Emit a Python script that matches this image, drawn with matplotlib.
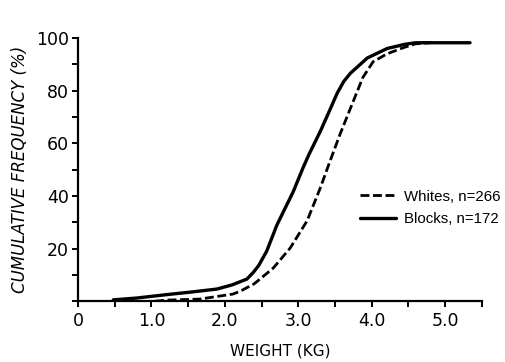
import matplotlib
matplotlib.use("Agg")
import matplotlib.pyplot as plt
from matplotlib.ticker import MultipleLocator

# Data (weight in kg, cumulative frequency in %)
blacks_x = [0.48, 0.8, 1.21, 1.55, 1.89, 2.10, 2.30, 2.39, 2.46, 2.57, 2.71, 2.93, 3.07, 3.15, 3.30, 3.42, 3.53, 3.62, 3.71, 3.94, 4.21, 4.45, 4.60, 5.34]
blacks_y = [0.5, 1.2, 2.5, 3.5, 4.6, 6.2, 8.4, 11.0, 13.5, 19.0, 29.0, 41.5, 51.0, 56.0, 64.5, 72.0, 79.0, 83.5, 86.6, 92.4, 96.0, 97.6, 98.2, 98.2]

whites_x = [1.05, 1.21, 1.66, 2.11, 2.21, 2.40, 2.66, 2.89, 3.12, 3.30, 3.43, 3.57, 3.75, 3.88, 4.02, 4.21, 4.45, 4.60, 4.80]
whites_y = [0.0, 0.4, 0.8, 2.7, 3.8, 6.6, 12.6, 20.2, 30.5, 43.0, 53.0, 63.5, 76.0, 85.0, 91.0, 94.0, 96.5, 97.8, 98.2]

series_labels = ["Whites, n=266", "Blocks, n=172"]
x_tick_labels = ["0", "1.0", "2.0", "3.0", "4.0", "5.0"]
x_tick_values = [0, 1, 2, 3, 4, 5]
y_tick_values = [20, 40, 60, 80, 100]
y_tick_labels = ["20", "40", "60", "80", "100"]

plt.rcParams['font.family'] = ['DejaVu Sans']

fig = plt.figure(figsize=(5.05, 3.62), dpi=100)
ax = fig.add_axes([0.1545, 0.168, 0.7995, 0.727])

ax.plot(whites_x, whites_y, color='black', lw=2.0, dashes=(3.2, 1.3),
        label=series_labels[0])
ax.plot(blacks_x, blacks_y, color='black', lw=2.4, solid_capstyle='round',
        solid_joinstyle='round', label=series_labels[1])

ax.set_xlim(0, 5.5)
ax.set_ylim(0, 100)

for s in ['top', 'right']:
    ax.spines[s].set_visible(False)
for s in ['left', 'bottom']:
    ax.spines[s].set_linewidth(1.6)

ax.set_xticks(x_tick_values)
ax.set_xticklabels(x_tick_labels)
ax.xaxis.set_minor_locator(MultipleLocator(0.5))
ax.set_yticks(y_tick_values)
ax.set_yticklabels(y_tick_labels)
ax.yaxis.set_minor_locator(MultipleLocator(10))

ax.tick_params(which='both', direction='out', width=1.4, color='black', length=4.5)
ax.tick_params(which='major', labelsize=12.5)
ax.tick_params(axis='y', which='major', pad=2)
ax.tick_params(axis='x', which='major', pad=3)

ax.set_xlabel("WEIGHT (KG)", fontsize=11, labelpad=10)
ax.set_ylabel("CUMULATIVE FREQUENCY (%)", fontsize=12, style='italic', labelpad=5)

leg = ax.legend(loc='center left', bbox_to_anchor=(0.698, 0.355), frameon=False,
                prop={'family': 'Liberation Sans', 'size': 10.8},
                handlelength=2.4, handletextpad=0.55, labelspacing=0.55,
                borderaxespad=0, borderpad=0)

fig.savefig("out.png", dpi=100)
